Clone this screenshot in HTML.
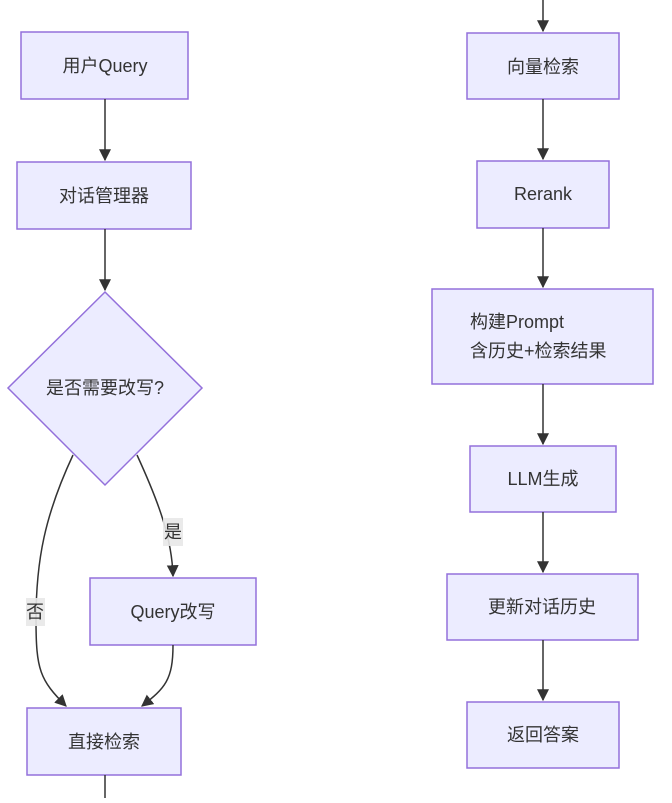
<!DOCTYPE html>
<html><head><meta charset="utf-8"><style>
html,body{margin:0;padding:0;background:#fff;}
svg text{font-family:"Liberation Sans","Noto Sans CJK SC",sans-serif;font-size:18px;fill:#333;}
</style></head><body>
<svg width="672" height="798" viewBox="0 0 672 798" xmlns="http://www.w3.org/2000/svg">
<defs><marker id="a" viewBox="0 0 10 10" refX="9" refY="5" markerWidth="8" markerHeight="8" orient="auto"><path d="M0,0L10,5L0,10z" fill="#333"/></marker></defs>
<g fill="#ECECFF" stroke="#9370DB" stroke-width="1.5">
<rect x="21" y="32" width="167" height="67"/>
<rect x="17" y="162" width="174" height="67"/>
<polygon points="105,292 202,388 105,485 8,388"/>
<rect x="90" y="578" width="166" height="67"/>
<rect x="27" y="708" width="154" height="67"/>
<rect x="467" y="33" width="152" height="66"/>
<rect x="477" y="161" width="132" height="67"/>
<rect x="432" y="289" width="221" height="95"/>
<rect x="470" y="446" width="146" height="66"/>
<rect x="447" y="574" width="191" height="66"/>
<rect x="467" y="702" width="152" height="66"/>
</g>
<g stroke="#333" stroke-width="1.5" fill="none" marker-end="url(#a)">
<path d="M105,99V160"/>
<path d="M105,229V290"/>
<path d="M73,455C45,515 36,560 36,620C36,670 40,680 66,706"/>
<path d="M137,455C160,505 172,540 173,576"/>
<path d="M173,645C173,680 165,688 142,706"/>
<path d="M543,0V31"/>
<path d="M543,99V159"/>
<path d="M543,228V287"/>
<path d="M543,384V444"/>
<path d="M543,512V572"/>
<path d="M543,640V700"/>
</g>
<path d="M105,775V798" stroke="#333" stroke-width="1.5"/>
<rect x="163" y="518" width="20" height="28" fill="#e8e8e8" opacity="0.9"/>
<rect x="26" y="598" width="19" height="28" fill="#e8e8e8" opacity="0.9"/>
<g text-anchor="middle">
<text x="105" y="72">用户Query</text>
<text x="104" y="202">对话管理器</text>
<text x="105" y="394">是否需要改写?</text>
<text x="173" y="538">是</text>
<text x="35" y="618">否</text>
<text x="173" y="618">Query改写</text>
<text x="104" y="748">直接检索</text>
<text x="543" y="73">向量检索</text>
<text x="543" y="200">Rerank</text>
<text x="543" y="485">LLM生成</text>
<text x="542" y="613">更新对话历史</text>
<text x="543" y="741">返回答案</text>
</g>
<text x="470" y="328">构建Prompt</text>
<text x="470" y="357">含历史+检索结果</text>
</svg>
</body></html>
